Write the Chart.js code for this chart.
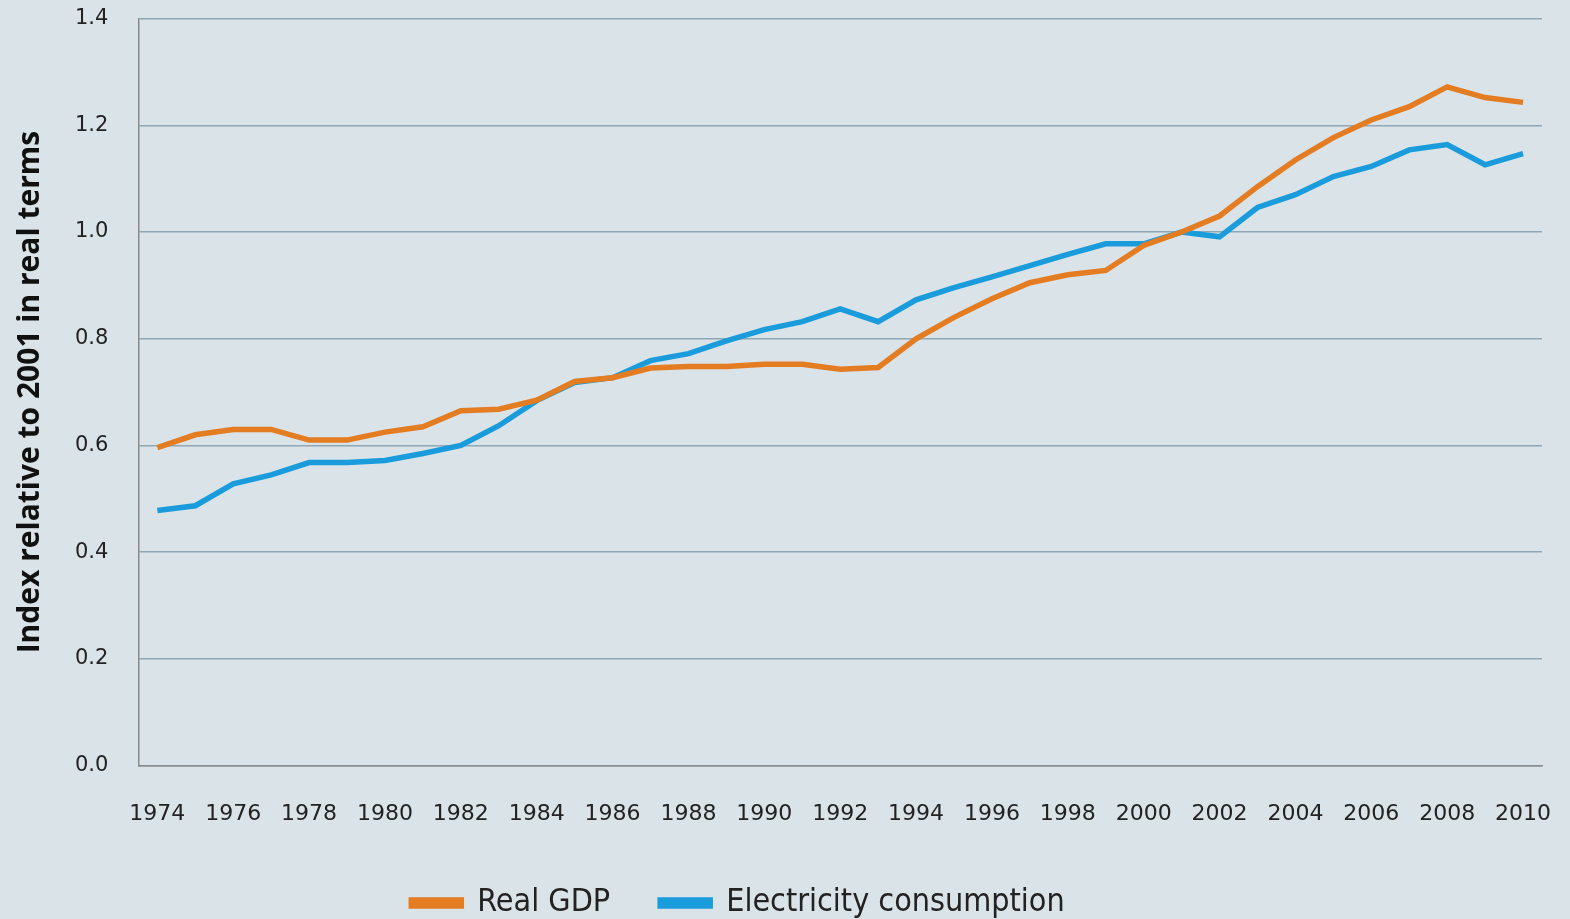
<!DOCTYPE html>
<html>
<head>
<meta charset="utf-8">
<script src="https://cdn.jsdelivr.net/npm/chart.js@4"></script>
<style>
  html, body { margin: 0; padding: 0; background: #dae3e8; }
  #wrap { width: 1570px; height: 919px; position: relative; }
</style>
</head>
<body>
<div id="wrap"><canvas id="c"></canvas></div>
<script>
const years = [1974,1975,1976,1977,1978,1979,1980,1981,1982,1983,1984,1985,1986,1987,1988,1989,1990,1991,1992,1993,1994,1995,1996,1997,1998,1999,2000,2001,2002,2003,2004,2005,2006,2007,2008,2009,2010];
const realGDP = [0.596,0.620,0.630,0.630,0.610,0.610,0.625,0.635,0.665,0.668,0.685,0.720,0.727,0.745,0.748,0.748,0.752,0.752,0.743,0.746,0.800,0.840,0.875,0.905,0.920,0.928,0.975,1.000,1.030,1.085,1.135,1.177,1.210,1.235,1.272,1.252,1.243];
const electricity = [0.478,0.487,0.528,0.545,0.568,0.568,0.572,0.585,0.600,0.637,0.684,0.718,0.727,0.759,0.772,0.796,0.817,0.832,0.856,0.832,0.873,0.896,0.916,0.937,0.958,0.978,0.978,1.000,0.991,1.046,1.070,1.104,1.123,1.154,1.164,1.126,1.147];
const yTicks = [0.0,0.2,0.4,0.6,0.8,1.0,1.2,1.4];
const seriesNames = ['Real GDP','Electricity consumption'];
const colors = ['#e47c22','#1a9cdc'];

const legendShift = {
  id: 'legendShift',
  afterLayout(chart) {
    const l = chart.legend;
    if (!l) return;
    l.left -= 39; l.right -= 39;
    l.top += 6; l.bottom += 6;
  }
};

new Chart(document.getElementById('c'), {
  type: 'line',
  data: {
    labels: years.map(String),
    datasets: [
      { label: seriesNames[0], data: realGDP, borderColor: colors[0], backgroundColor: colors[0], borderWidth: 5.5, pointRadius: 0, tension: 0 },
      { label: seriesNames[1], data: electricity, borderColor: colors[1], backgroundColor: colors[1], borderWidth: 5.5, pointRadius: 0, tension: 0 }
    ]
  },
  plugins: [legendShift],
  options: {
    responsive: true,
    maintainAspectRatio: false,
    animation: false,
    layout: { padding: { left: 12, right: 28, top: 0, bottom: -4 } },
    plugins: {
      tooltip: { enabled: false },
      legend: {
        position: 'bottom',
        labels: {
          boxWidth: 50, boxHeight: 6, color: '#222',
          font: { family: 'DejaVu Sans Condensed, DejaVu Sans', size: 32 },
          padding: 50
        }
      }
    },
    scales: {
      x: {
        offset: true,
        grid: { display: true, drawOnChartArea: false, drawTicks: true, tickLength: 31, tickColor: 'transparent', color: 'transparent' },
        border: { display: true, color: '#8a8a8a', width: 1.5 },
        ticks: {
          autoSkip: false, maxRotation: 0, minRotation: 0, padding: 4, color: '#222',
          font: { family: 'DejaVu Sans', size: 22 },
          callback: function(v, i) { return i % 2 === 0 ? this.getLabelForValue(v) : ''; }
        }
      },
      y: {
        min: 0, max: 1.4,
        afterBuildTicks: (axis) => { axis.ticks = yTicks.map(v => ({ value: v })); },
        grid: { color: '#8fa7b5', lineWidth: 1.5, drawTicks: true, tickLength: 24, tickColor: 'transparent' },
        border: { display: true, color: '#8a8a8a', width: 1.5 },
        ticks: {
          padding: 6, color: '#222',
          font: { family: 'DejaVu Sans', size: 21 },
          callback: (v) => Number(v).toFixed(1)
        },
        title: {
          display: true, text: 'Index relative to 2001 in real terms', color: '#111',
          font: { family: 'Open Sans', size: 30, weight: 'bold' },
          padding: { top: 0, bottom: 21 }
        }
      }
    }
  }
});
</script>
</body>
</html>
